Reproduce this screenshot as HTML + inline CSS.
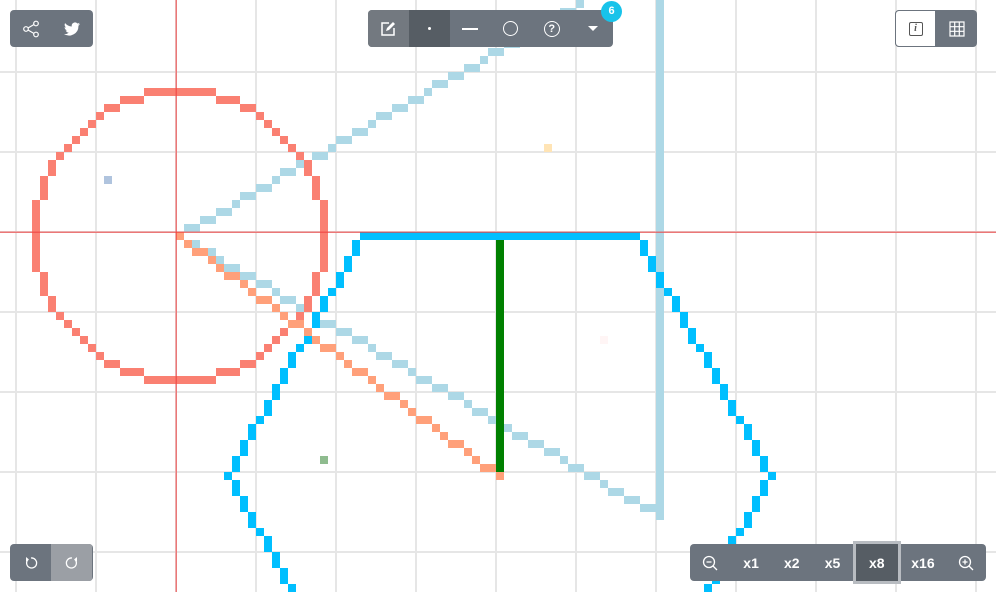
<!DOCTYPE html>
<html><head><meta charset="utf-8">
<style>
html,body{margin:0;padding:0;width:996px;height:592px;overflow:hidden;background:#fff;font-family:"Liberation Sans",sans-serif}
#c{position:absolute;left:0;top:0;overflow:hidden}
.bar{position:absolute;background:#6c747e;border-radius:4px;display:flex;overflow:hidden;height:37px}
.btn{width:41px;height:37px;display:flex;align-items:center;justify-content:center;color:#fff;font-size:14px;font-weight:bold;box-sizing:border-box}
</style></head><body>
<svg id="c" width="996" height="592"></svg>

<div class="bar" style="left:10px;top:10px;width:83px">
 <div class="btn"><svg width="18" height="18"><circle cx="4" cy="9" r="2.3" fill="none" stroke="#fff" stroke-width="1.2"/><circle cx="14" cy="3.5" r="2.3" fill="none" stroke="#fff" stroke-width="1.2"/><circle cx="14" cy="14.5" r="2.3" fill="none" stroke="#fff" stroke-width="1.2"/><path d="M6 8L12 4.5M6 10L12 13.5" stroke="#fff" stroke-width="1.2"/></svg></div>
 <div class="btn"><svg width="16" height="14"><path d="M16 2c-.6.3-1.2.4-1.9.5.7-.4 1.2-1 1.4-1.8-.6.4-1.300.6-2.1.8A3.3 3.3 0 0 0 7.8 4.5 9.3 9.3 0 0 1 1.1 1.1a3.3 3.3 0 0 0 1 4.4c-.5 0-1-.2-1.5-.4 0 1.6 1.1 2.9 2.6 3.2-.5.1-1 .2-1.5.1.4 1.3 1.6 2.3 3.1 2.3A6.6 6.6 0 0 1 0 12a9.3 9.3 0 0 0 14.4-8.3c.6-.4 1.2-1 1.6-1.7z" fill="#fff"/></svg></div>
</div>

<div class="bar" style="left:368px;top:10px;width:245px;overflow:visible">
 <div class="btn" style="background:#737980;border-radius:4px 0 0 4px"><svg width="16" height="16"><path d="M9 2H2v12h12V7" fill="none" stroke="#fff" stroke-width="1.5"/><path d="M6 10l1-3 6-6 2 2-6 6z" fill="#fff"/></svg></div>
 <div class="btn" style="background:#565d64"><div style="width:3px;height:3px;background:#fff;border-radius:50%"></div></div>
 <div class="btn"><div style="width:16px;height:2px;background:#fff"></div></div>
 <div class="btn"><div style="width:13px;height:13px;border:1.5px solid #fff;border-radius:50%"></div></div>
 <div class="btn"><div style="width:14px;height:14px;border:1.5px solid #fff;border-radius:50%;font-size:11px;line-height:14px;text-align:center">?</div></div>
 <div class="btn"><div style="width:0;height:0;border-left:5px solid transparent;border-right:5px solid transparent;border-top:5px solid #fff"></div></div>
 <div style="position:absolute;left:233px;top:-9px;width:21px;height:21px;border-radius:50%;background:#18c3ea;color:#fff;font-size:11px;font-weight:bold;text-align:center;line-height:21px">6</div>
</div>

<div class="bar" style="left:895px;top:10px;width:82px">
 <div class="btn" style="background:#fff;border:1px solid #6c747e;border-radius:4px 0 0 4px"><div style="width:12px;height:12px;border:1.3px solid #555;border-radius:2px;font-size:10px;line-height:12px;text-align:center;color:#555;font-style:italic;font-family:'Liberation Serif',serif">i</div></div>
 <div class="btn"><svg width="16" height="16"><path d="M1 1h14v14H1zM5.7 1v14M10.3 1v14M1 5.7h14M1 10.3h14" fill="none" stroke="#fff" stroke-width="1.2"/></svg></div>
</div>

<div class="bar" style="left:10px;top:544px;width:83px">
 <div class="btn"><svg width="14" height="14"><path d="M4 3.5A5 5 0 1 0 7 2" fill="none" stroke="#fff" stroke-width="1.3"/><path d="M2 1l3 2.5-3 2z" fill="#fff"/></svg></div>
 <div class="btn" style="background:#9b9fa5"><svg width="14" height="14"><path d="M10 3.5A5 5 0 1 1 7 2" fill="none" stroke="#fff" stroke-width="1.3"/><path d="M12 1l-3 2.5 3 2z" fill="#fff"/></svg></div>
</div>

<div class="bar" style="left:690px;top:544px;width:296px;overflow:visible">
 <div class="btn"><svg width="16" height="16"><circle cx="7" cy="7" r="5.5" fill="none" stroke="#fff" stroke-width="1.3"/><path d="M4.5 7h5M11 11l4 4" stroke="#fff" stroke-width="1.3"/></svg></div>
 <div class="btn">x1</div>
 <div class="btn">x2</div>
 <div class="btn">x5</div>
 <div class="btn" style="background:#565d64;width:48px;border:3px solid #b8bcc1;margin-top:-3px;height:43px">x8</div>
 <div class="btn" style="width:45px">x16</div>
 <div class="btn"><svg width="16" height="16"><circle cx="7" cy="7" r="5.5" fill="none" stroke="#fff" stroke-width="1.3"/><path d="M4.5 7h5M7 4.5v5M11 11l4 4" stroke="#fff" stroke-width="1.3"/></svg></div>
</div>

<script>
// pixel cell size 8, canvas cells
const lineStarts = [[22,29],[22,29],[82,0],[62,29],[45,29],[79,29],[96,59],[45,29],[28,59],[22,29]];
const lineEnds   = [[72,0],[82,64],[82,64],[62,59],[79,29],[96,59],[79,89],[28,59],[45,89],[62,59]];
const lineColors = ["#add8e6","#add8e6","#add8e6","#008000","#00bfff","#00bfff","#00bfff","#00bfff","#00bfff","#ffa07a"];
const circleCenter = [22,29];
const circleRadius = [18];
const dotX = [13,68,40,75];
const dotY = [22,18,57,42];
const dotColors = ["#b0c4de","#ffe4b5","#8fbc8f","#fff5f5"];

const S=8, NS="http://www.w3.org/2000/svg", W=996, H=592;
const svg=document.getElementById('c');
function sx(c){return c*S;} function sy(r){return r*S;}
function add(tag,attrs){const e=document.createElementNS(NS,tag);for(const k in attrs)e.setAttribute(k,attrs[k]);svg.appendChild(e);return e;}
for(let x=16;x<W;x+=80){const l=add('rect',{x:x-1,y:0,width:2,height:H,fill:'#e6e6e6'});

}
for(let y=72;y<H;y+=80){const l=add('rect',{x:0,y:y-1,width:W,height:2,fill:'#e6e6e6'});

}
function px(c,r,col,name){
 if(sx(c)<0||sy(r)<0||sx(c)>=W||sy(r)>=H)return;
 const w=Math.min(S,W-sx(c)), h=Math.min(S,H-sy(r));
 const e=add('rect',{x:sx(c),y:sy(r),width:w,height:h,fill:col});
 
 }
function line(a,b,col,name){let [x0,y0]=a,[x1,y1]=b;const dx=Math.abs(x1-x0),dy=-Math.abs(y1-y0),sxn=x0<x1?1:-1,syn=y0<y1?1:-1;let err=dx+dy;
while(true){px(x0,y0,col,name);if(x0===x1&&y0===y1)break;const e2=2*err;if(e2>=dy){err+=dy;x0+=sxn;}if(e2<=dx){err+=dx;y0+=syn;}}}
[0,1,2].forEach(i=>line(lineStarts[i],lineEnds[i],lineColors[i],'line-stroke-'+i));
(function(){const [cx,cy]=circleCenter;let r=circleRadius[0],x=r,y=0,d=1-r;const col='#fa8072';
while(x>=y){[[x,y],[y,x],[-y,x],[-x,y],[-x,-y],[-y,-x],[y,-x],[x,-y]].forEach(p=>px(cx+p[0],cy+p[1],col,'circle-pixel'));
y++;if(d<0)d+=2*y+1;else{x--;d+=2*(y-x)+1;}}})();
[3,4,5,6,7,8,9].forEach(i=>line(lineStarts[i],lineEnds[i],lineColors[i],'line-stroke-'+i));
dotX.forEach((x,i)=>px(x,dotY[i],dotColors[i],'dot-pixel'));
const ch1=add('rect',{x:0,y:231.5,width:W,height:1.5,fill:'rgba(240,60,60,0.65)'});


const ch2=add('rect',{x:175.5,y:0,width:1.5,height:H,fill:'rgba(240,60,60,0.65)'});


</script>
</body></html>
